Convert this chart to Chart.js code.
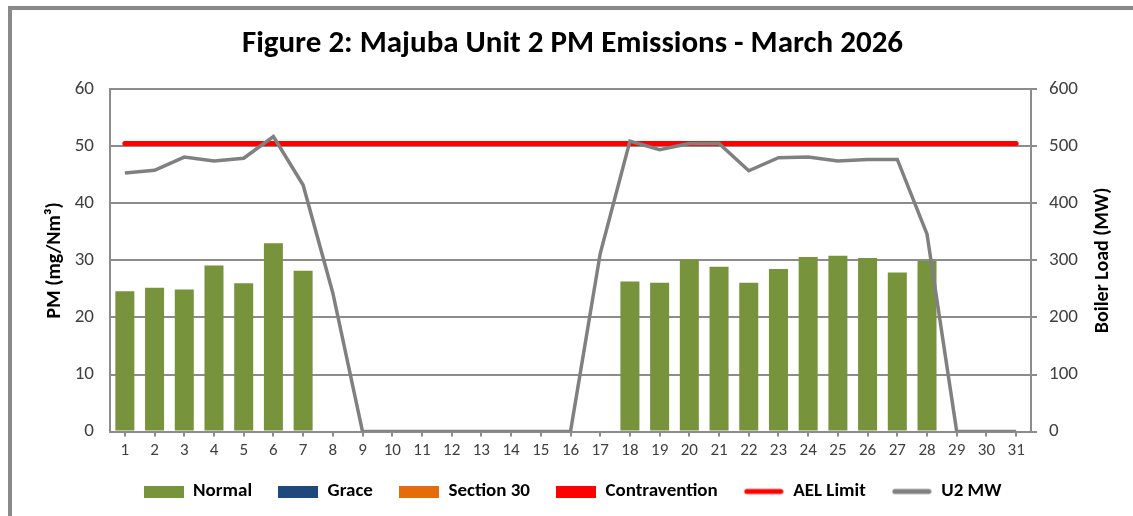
<!DOCTYPE html>
<html>
<head>
<meta charset="utf-8">
<script src="https://cdn.jsdelivr.net/npm/chart.js@4.4.1/dist/chart.umd.min.js"></script>
<style>
  html, body { margin: 0; padding: 0; background: #fff; }
  #wrap { position: relative; width: 1133px; height: 516px; }
  #frame { position: absolute; left: 8px; top: 6px; right: 0; bottom: 0;
           border-top: 4px solid #8a8a8a; border-left: 4px solid #8a8a8a; pointer-events: none; }
</style>
</head>
<body>
<div id="wrap">
  <canvas id="pmChart" width="1133" height="516"></canvas>
  <div id="frame"></div>
</div>
<script>
// Days of March 2026
const days = Array.from({ length: 31 }, (_, i) => String(i + 1));

// PM emissions (mg/Nm3) per day, null = unit offline
const normal = [24.6, 25.2, 24.9, 29.1, 26.0, 33.0, 28.2, null, null, null,
                null, null, null, null, null, null, null, 26.3, 26.1, 30.1,
                28.9, 26.1, 28.5, 30.6, 30.8, 30.4, 27.9, 29.9, null, null, null];
const grace = new Array(31).fill(null);
const section30 = new Array(31).fill(null);
const contravention = new Array(31).fill(null);

// AEL limit line
const aelLimit = new Array(31).fill(50.5);

// Boiler load U2 (MW)
const u2MW = [453, 458, 481, 474, 479, 517, 432, 243, 0, 0,
              0, 0, 0, 0, 0, 0, 312, 509, 494, 505,
              505, 457, 480, 481, 474, 477, 477, 346, 0, 0, 0];

const FONT = 'Carlito, "Open Sans", sans-serif';
const GRID = '#8c8c8c';
const TICK = '#404040';

// legend swatches: boxes for bars, thick lines for lines
function swatch(color, isLine) {
    const c = document.createElement('canvas');
    c.width = 40; c.height = 12;
    const g = c.getContext('2d');
    if (isLine) {
        g.strokeStyle = color;
        g.lineWidth = 5;
        g.lineCap = 'round';
        g.beginPath(); g.moveTo(3, 6); g.lineTo(37, 6); g.stroke();
    } else {
        g.fillStyle = color;
        g.fillRect(0, 0, 40, 12);
    }
    return c;
}

// right axis title reads bottom-to-top like the left one
const rightTitle = {
    id: 'rightTitle',
    afterDraw(chart) {
        const ctx = chart.ctx;
        const area = chart.chartArea;
        ctx.save();
        ctx.translate(1103, (area.top + area.bottom) / 2);
        ctx.rotate(-Math.PI / 2);
        ctx.font = 'bold 20px ' + FONT;
        ctx.fillStyle = '#000';
        ctx.textAlign = 'center';
        ctx.textBaseline = 'middle';
        ctx.fillText('Boiler Load (MW)', 0, 0);
        ctx.restore();
    }
};

const barStyle = { stack: 'pm', yAxisID: 'y', order: 2, categoryPercentage: 1, barPercentage: 0.64 };

new Chart(document.getElementById('pmChart'), {
    type: 'bar',
    data: {
        labels: days,
        datasets: [
            { label: 'Normal', data: normal, backgroundColor: '#77933c', ...barStyle },
            { label: 'Grace', data: grace, backgroundColor: '#1f497d', ...barStyle },
            { label: 'Section 30', data: section30, backgroundColor: '#e46c0a', ...barStyle },
            { label: 'Contravention', data: contravention, backgroundColor: '#ff0000', ...barStyle },
            { type: 'line', label: 'AEL Limit', data: aelLimit, yAxisID: 'y', stack: 'ael',
              borderColor: '#ff0000', backgroundColor: '#ff0000', borderWidth: 5,
              borderCapStyle: 'round', pointRadius: 0, order: 1 },
            { type: 'line', label: 'U2 MW', data: u2MW, yAxisID: 'y1',
              borderColor: '#808080', backgroundColor: '#808080', borderWidth: 3.5,
              pointRadius: 0, tension: 0, order: 0 }
        ]
    },
    options: {
        responsive: false,
        animation: false,
        layout: { padding: { left: 12, right: 0, top: 12, bottom: 5 } },
        plugins: {
            title: {
                display: true,
                text: 'Figure 2: Majuba Unit 2 PM Emissions - March 2026',
                color: '#000',
                font: { family: FONT, size: 31, weight: 'bold' },
                padding: { top: 14, bottom: 26 }
            },
            legend: {
                position: 'bottom',
                labels: {
                    usePointStyle: true,
                    pointStyleWidth: 40,
                    boxHeight: 12,
                    padding: 26,
                    color: '#000',
                    font: { family: FONT, size: 19, weight: 'bold' },
                    generateLabels(chart) {
                        const items = Chart.defaults.plugins.legend.labels.generateLabels(chart);
                        items.sort((a, b) => a.datasetIndex - b.datasetIndex);
                        items.forEach(it => {
                            const ds = chart.data.datasets[it.datasetIndex];
                            it.pointStyle = swatch(ds.borderColor || ds.backgroundColor, ds.type === 'line');
                        });
                        return items;
                    }
                }
            },
            tooltip: { enabled: false }
        },
        scales: {
            x: {
                stacked: true,
                offset: true,
                grid: { offset: false, drawOnChartArea: false, tickLength: 5, color: GRID, lineWidth: 2 },
                border: { color: GRID, width: 2 },
                ticks: { color: TICK, font: { family: FONT, size: 17 }, padding: 4, maxRotation: 0, autoSkip: false },
                afterFit(scale) { scale.height -= 9; }
            },
            y: {
                stacked: true,
                position: 'left',
                min: 0, max: 60,
                ticks: { stepSize: 10, color: TICK, font: { family: FONT, size: 19 }, padding: 16 },
                grid: { color: GRID, lineWidth: 2, drawTicks: false },
                border: { color: GRID, width: 2 },
                title: { display: true, text: 'PM (mg/Nm³)', color: '#000',
                         font: { family: FONT, size: 20, weight: 'bold' }, padding: { top: 31, bottom: 0 } },
                afterFit(scale) { scale.width = 98; }
            },
            y1: {
                position: 'right',
                min: 0, max: 600,
                ticks: { stepSize: 100, color: TICK, font: { family: FONT, size: 19 }, padding: 12 },
                grid: { drawOnChartArea: false, tickLength: 6, color: GRID, lineWidth: 2 },
                border: { color: GRID, width: 2 },
                afterFit(scale) { scale.width = 102; }
            }
        }
    },
    plugins: [rightTitle]
});
</script>
</body>
</html>
